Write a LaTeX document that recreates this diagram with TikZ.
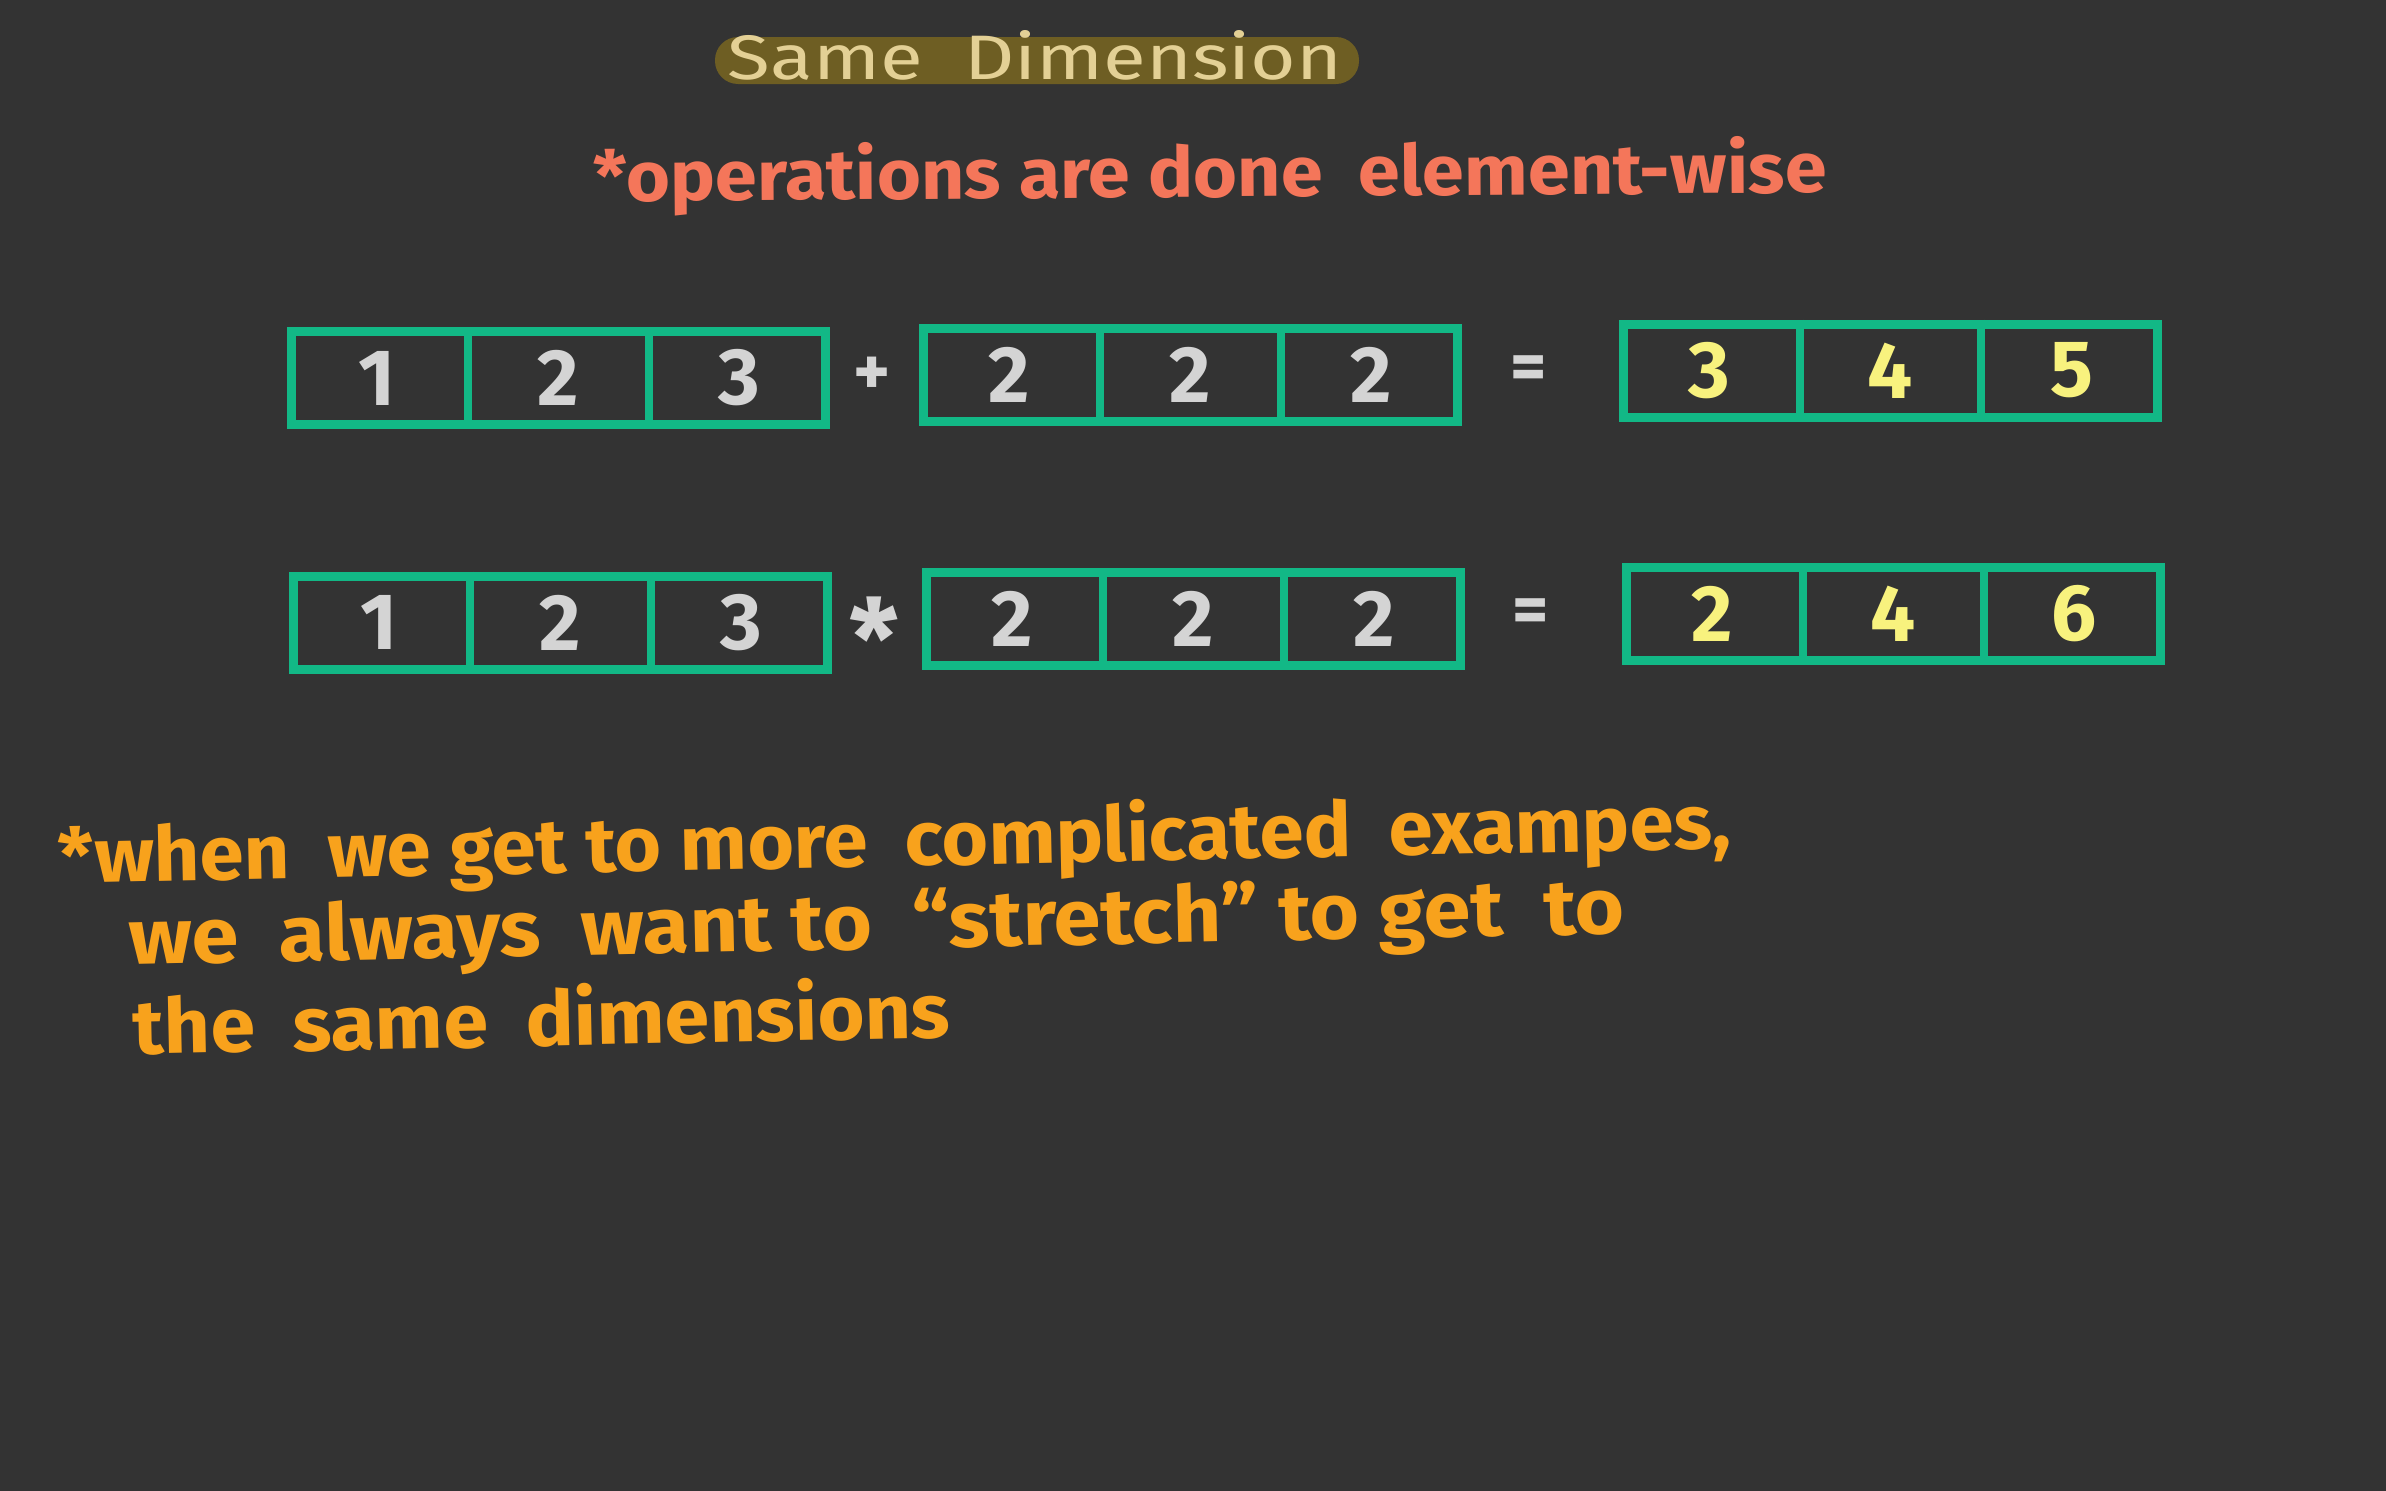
\documentclass[tikz,border=0pt]{standalone}
\usepackage{fontspec}
\usepackage{graphicx}
\usetikzlibrary{calc}
\setmainfont{Fira Sans}
\definecolor{bg}{HTML}{333333}
\definecolor{boxgreen}{HTML}{12B886}
\definecolor{digitgray}{HTML}{D4D4D4}
\definecolor{digityellow}{HTML}{F8F27E}
\definecolor{redtext}{HTML}{F4765A}
\definecolor{orangetext}{HTML}{F8A21C}
\definecolor{titletext}{HTML}{E3D095}
\definecolor{pill}{HTML}{6E5E23}
\tikzset{
  arr/.style={draw=boxgreen, line width=9pt, minimum width=534pt, minimum height=93pt, inner sep=0pt},
  divider/.style={draw=boxgreen, line width=8pt},
  digit/.style={inner sep=0pt, font=\fontsize{80}{80}\selectfont\bfseries},
  indigit/.style={digit, text=digitgray},
  outdigit/.style={digit, text=digityellow},
  op/.style={text=digitgray, inner sep=0pt, font=\fontsize{70}{70}\selectfont\bfseries},
  note/.style={text=orangetext, anchor=base, inner sep=0pt, rotate=1.2, font=\bfseries},
}
\newcommand{\arraybox}[5]{%
  \node[arr] (#1) at (#2) {};
  \draw[divider] ($(#1.north west)!1/3!(#1.north east)$) -- ($(#1.south west)!1/3!(#1.south east)$);
  \draw[divider] ($(#1.north west)!2/3!(#1.north east)$) -- ($(#1.south west)!2/3!(#1.south east)$);
  \node[#3] (#1-1) at ($(#1.west)!1/6!(#1.east)$) {#4};
  \node[#3] (#1-2) at ($(#1.west)!3/6!(#1.east)$) {#5};
}
\begin{document}
\begin{tikzpicture}[x=1pt,y=-1pt]
\fill[bg] (0,0) rectangle (2386,1491);
\useasboundingbox (0,0) rectangle (2386,1491);
% title
\node[fill=pill, rounded corners=23pt, minimum width=644pt, minimum height=47pt, inner sep=0pt] (pill) at (1037,60.5) {};
\node[text=titletext, anchor=base, inner sep=0pt] (title) at (1035,79) {\resizebox{614pt}{49pt}{Same\ \ Dimension}};
% red note
\node[text=redtext, anchor=base, inner sep=0pt, rotate=0.4, font=\bfseries] (ops) at (1210,197) {\resizebox{1233pt}{57pt}{*operations are done\ \ element-wise}};
% row 1
\node[arr] (A) at (558.5,378) {};
\node[arr] (B) at (1190.5,375) {};
\node[arr] (C) at (1890.5,370.5) {};
\node[arr] (D) at (560.5,622.5) {};
\node[arr] (E) at (1193.5,619) {};
\node[arr] (F) at (1893.5,614) {};
\foreach \b in {A,B,C,D,E,F}{
  \draw[divider] ($(\b.north west)!1/3!(\b.north east)$) -- ($(\b.south west)!1/3!(\b.south east)$);
  \draw[divider] ($(\b.north west)!2/3!(\b.north east)$) -- ($(\b.south west)!2/3!(\b.south east)$);
}
\node[indigit] (a1) at ($(A.west)!1/6!(A.east)$) {1};
\node[indigit] (a2) at ($(A.west)!3/6!(A.east)$) {2};
\node[indigit] (a3) at ($(A.west)!5/6!(A.east)$) {3};
\node[op] (plus) at (872,376) {+};
\node[indigit] (b1) at ($(B.west)!1/6!(B.east)$) {2};
\node[indigit] (b2) at ($(B.west)!3/6!(B.east)$) {2};
\node[indigit] (b3) at ($(B.west)!5/6!(B.east)$) {2};
\node[op] (eq1) at (1529,373) {=};
\node[outdigit] (c1) at ($(C.west)!1/6!(C.east)$) {3};
\node[outdigit] (c2) at ($(C.west)!3/6!(C.east)$) {4};
\node[outdigit] (c3) at ($(C.west)!5/6!(C.east)$) {5};
% row 2
\node[indigit] (d1) at ($(D.west)!1/6!(D.east)$) {1};
\node[indigit] (d2) at ($(D.west)!3/6!(D.east)$) {2};
\node[indigit] (d3) at ($(D.west)!5/6!(D.east)$) {3};
\node[op, font=\fontsize{110}{110}\selectfont\bfseries] (times) at (874,638) {*};
\node[indigit] (e1) at ($(E.west)!1/6!(E.east)$) {2};
\node[indigit] (e2) at ($(E.west)!3/6!(E.east)$) {2};
\node[indigit] (e3) at ($(E.west)!5/6!(E.east)$) {2};
\node[op] (eq2) at (1531,616) {=};
\node[outdigit] (f1) at ($(F.west)!1/6!(F.east)$) {2};
\node[outdigit] (f2) at ($(F.west)!3/6!(F.east)$) {4};
\node[outdigit] (f3) at ($(F.west)!5/6!(F.east)$) {6};
% orange note
\node[note] (n1) at (895,866) {\resizebox{1674pt}{62pt}{*when\ \ we get to more\ \ complicated\ \ exampes,}};
\node[note] (n2) at (877,949) {\resizebox{1496pt}{60pt}{we\ \ always\ \ want to\ \ ``stretch'' to get\ \ to}};
\node[note] (n3) at (542,1046) {\resizebox{817pt}{62pt}{the\ \ same\ \ dimensions}};
\end{tikzpicture}
\end{document}
